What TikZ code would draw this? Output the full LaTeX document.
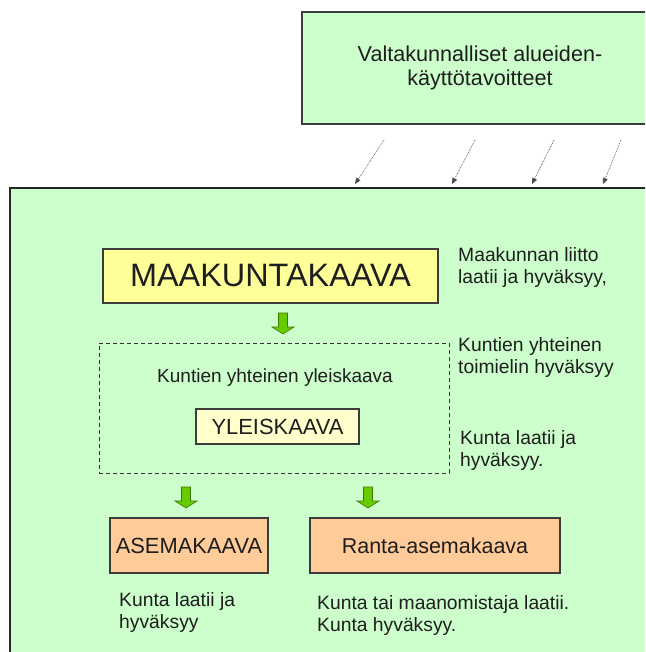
\documentclass[tikz,border=0pt]{standalone}
\usepackage{fontspec}
\setmainfont{Liberation Sans}
\usepackage{tikz}
\usepackage{xcolor}
\usetikzlibrary{positioning,arrows.meta}
\definecolor{panelgreen}{RGB}{204,255,204}
\definecolor{plangold}{RGB}{255,255,153}
\definecolor{planpale}{RGB}{255,255,204}
\definecolor{planpeach}{RGB}{255,204,153}
\definecolor{arrowgreen}{RGB}{102,204,0}
\definecolor{arrowedge}{RGB}{60,120,0}
\definecolor{ink}{RGB}{30,30,30}
\definecolor{edge}{RGB}{60,60,60}
\tikzset{
  planbox/.style={draw=edge, line width=1.1pt, inner sep=0pt, text=ink},
  note/.style={anchor=base west, align=left, inner sep=0pt, text=ink,
    font=\fontsize{19.3}{22}\selectfont},
  hint/.style={densely dotted, black!70, line width=0.7pt,
    -{Triangle[length=6pt,width=5pt]}},
  downarrow/.pic={
    \draw[arrowedge, fill=arrowgreen, line width=0.6pt]
      (-4.5,0) -- (-4.5,-14) -- (-11,-14) -- (0,-21) -- (11,-14)
      -- (4.5,-14) -- (4.5,0) -- cycle;
  }
}

\begin{document}
\begin{tikzpicture}[x=1pt, y=1pt]
  \clip (0,0) rectangle (645,-652);
  \fill[white] (0,0) rectangle (645,-652);
  % outer panel
  \draw[fill=panelgreen, draw=black!85, line width=1.2pt] (10,-188) rectangle (690,-700);
  % national goals
  \node[planbox, fill=panelgreen, minimum width=356pt, minimum height=112pt,
        align=center, font=\fontsize{21.6}{24.5}\selectfont] (goals) at (480,-68)
        {Valtakunnalliset alueiden-\\käyttötavoitteet};
  \foreach \sx/\ex [count=\i] in {384/355, 475/452, 554/532, 621/603} {
    \coordinate (hs\i) at (\sx,-140);
    \coordinate (he\i) at (\ex,-184);
    \draw[hint] (hs\i) -- (he\i);
  }
  % plan levels
  \node[planbox, fill=plangold, minimum width=335pt, minimum height=54pt,
        font=\fontsize{32.4}{36}\selectfont] (maak) at (270.5,-276) {MAAKUNTAKAAVA};
  \pic at (283,-313) {downarrow};
  \node[draw=black!80, dash pattern=on 4pt off 3pt, line width=1pt, minimum width=350pt,
        minimum height=130pt, inner sep=0pt] (joint) at (274,-408) {};
  \node[anchor=base, inner sep=0pt, text=ink, font=\fontsize{19}{22}\selectfont]
        (jointlbl) at (275,-382) {Kuntien yhteinen yleiskaava};
  \node[planbox, fill=planpale, minimum width=163pt, minimum height=35pt,
        font=\fontsize{21.9}{24}\selectfont] (yk) at (277.5,-426.5) {YLEISKAAVA};
  \pic at (186,-487) {downarrow};
  \pic at (368,-487) {downarrow};
  \node[planbox, fill=planpeach, minimum width=158pt, minimum height=55pt,
        font=\fontsize{21.9}{26}\selectfont] (ak) at (189,-545.5) {ASEMAKAAVA};
  \node[planbox, fill=planpeach, minimum width=250pt, minimum height=55pt,
        font=\fontsize{21.5}{26}\selectfont] (rak) at (435,-545.5) {Ranta-asemakaava};
  % who draws and approves
  \node[note] (n1) at (458,-283) {Maakunnan liitto\\laatii ja hyväksyy,};
  \node[note] (n2) at (458,-373) {Kuntien yhteinen\\toimielin hyväksyy};
  \node[note] (n3) at (460,-466) {Kunta laatii ja\\hyväksyy.};
  \node[note] (n4) at (119,-628) {Kunta laatii ja\\hyväksyy};
  \node[note] (n5) at (317,-631) {Kunta tai maanomistaja laatii.\\Kunta hyväksyy.};
\end{tikzpicture}
\end{document}
